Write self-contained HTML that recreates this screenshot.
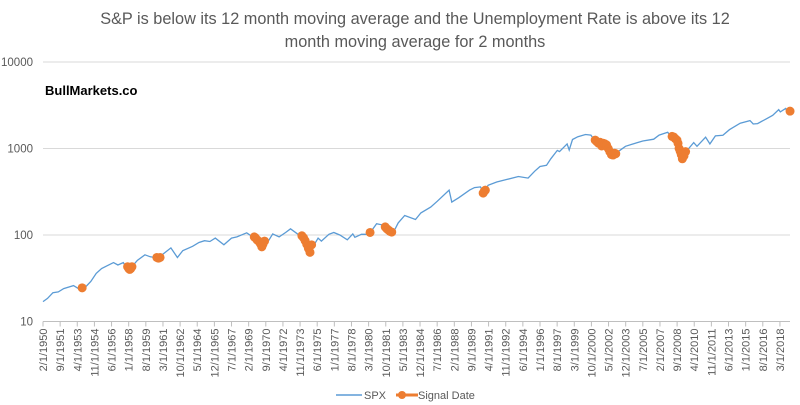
<!DOCTYPE html>
<html><head><meta charset="utf-8"><style>
html,body{margin:0;padding:0;background:#fff;}
svg{display:block;font-family:"Liberation Sans",Calibri,sans-serif;}
</style></head><body>
<svg id="chart" width="800" height="405" viewBox="0 0 800 405">
<text x="415" y="24" text-anchor="middle" font-size="16.3" fill="#595959">S&amp;P is below its 12 month moving average and the Unemployment Rate is above its 12</text>
<text x="415" y="47" text-anchor="middle" font-size="16.3" fill="#595959">month moving average for 2 months</text>
<text x="45" y="95" font-size="13" font-weight="bold" fill="#000">BullMarkets.co</text>
<g id="grid"></g>
<g id="yticks"></g>
<g id="xticks"></g>
<g id="series"></g>
<g>
<line x1="336" y1="395" x2="362" y2="395" stroke="#5b9bd5" stroke-width="1.5"/>
<text x="364" y="399" font-size="11" fill="#595959">SPX</text>
<line x1="396" y1="395" x2="418" y2="395" stroke="#ed7d31" stroke-width="3"/>
<circle cx="402" cy="395" r="4" fill="#ed7d31"/>
<text x="418" y="399" font-size="11" fill="#595959">Signal Date</text>
</g>
</svg>
<script>
const spxDates=[1950.08,1950.5,1951,1951.5,1952,1952.9,1953.6,1954,1954.5,1955,1955.5,1956,1956.6,1957,1957.5,1957.9,1958.3,1958.8,1959.5,1960,1960.8,1961,1961.9,1962.5,1963,1963.9,1964.5,1965,1965.5,1966,1966.8,1967.5,1968,1968.9,1969.5,1970,1970.4,1970.9,1971.3,1971.9,1972.5,1972.95,1973.5,1973.9,1974.4,1974.75,1975.5,1975.8,1976.5,1976.95,1977.5,1978.2,1978.7,1978.9,1979.5,1980.2,1980.9,1981.5,1982.5,1982.9,1983.5,1984.5,1985,1985.9,1986.5,1987.6,1987.85,1988.5,1989.5,1989.95,1990.5,1990.8,1991.2,1992,1993,1994,1994.9,1995.5,1996,1996.6,1997,1997.6,1997.8,1998.5,1998.7,1999,1999.5,2000.2,2000.7,2001.2,2001.7,2001.95,2002.5,2002.75,2003,2003.9,2004.5,2005.5,2006.5,2007,2007.8,2008.2,2008.5,2008.85,2009.15,2009.5,2010.2,2010.5,2011.3,2011.7,2012.2,2012.9,2013.5,2014,2014.5,2015.4,2015.7,2016.1,2016.9,2017.5,2018.05,2018.2,2018.7,2018.95,2019.1];
const spxValues=[17,18.5,21.5,22,24,26,23,25,29,36,41,44,48,45,48,40,43,51,59,56,54,58,71,55,66,74,82,86,84,92,77,92,95,106,94,87,73,85,103,95,107,118,105,96,88,64,92,85,102,107,100,88,103,94,102,102,135,130,110,138,168,151,180,210,245,330,240,270,330,353,360,305,375,410,440,475,455,545,620,640,760,950,920,1130,960,1270,1370,1450,1430,1160,1040,1150,920,815,880,1060,1120,1220,1280,1430,1540,1330,1280,900,735,920,1170,1060,1350,1130,1400,1420,1650,1800,1960,2100,1920,1940,2200,2420,2820,2650,2900,2500,2700];
const signalDates=[1953.7,1957.9,1958.0,1958.1,1958.2,1958.3,1960.6,1960.75,1960.9,1969.6,1969.7,1969.85,1970.0,1970.15,1970.3,1970.4,1970.55,1974.0,1974.15,1974.3,1974.45,1974.6,1974.75,1974.9,1980.3,1981.7,1981.85,1982.0,1982.15,1982.3,1990.75,1990.85,1990.95,2001.1,2001.25,2001.4,2001.55,2001.7,2001.85,2002.0,2002.15,2002.3,2002.45,2002.6,2002.75,2002.9,2003.0,2008.2,2008.35,2008.5,2008.65,2008.75,2008.85,2008.95,2009.05,2009.15,2009.3,2009.45,2019.1];
const signalValues=[24.5,43,41,40,41,43,55,54,55,95,93,88,85,80,73,78,85,98,93,86,78,70,63,77,107,124,118,114,110,108,305,320,330,1250,1200,1150,1180,1070,1150,1130,1100,1000,920,850,840,880,870,1380,1360,1300,1250,1150,1000,930,850,760,820,920,2700];
const yTicks=[10,100,1000,10000];

const NS="http://www.w3.org/2000/svg";
const X0=43,PX_PER_MONTH=0.902,T0=1950.083;
const yTop=62,decade=86.5;
function xs(t){return X0+(t-T0)*12*PX_PER_MONTH;}
function ys(v){return yTop+(4-Math.log10(v))*decade;}
function mk(tag,attrs,parent){const e=document.createElementNS(NS,tag);for(const k in attrs)e.setAttribute(k,attrs[k]);parent.appendChild(e);return e;}

const grid=document.getElementById('grid'),yt=document.getElementById('yticks'),xt=document.getElementById('xticks'),ser=document.getElementById('series');
yTicks.forEach(v=>{
  if(v>10){const l=mk('line',{x1:X0,x2:790,y1:ys(v),y2:ys(v),stroke:'#d9d9d9','stroke-width':1},grid);
  
  }
  const t=mk('text',{x:33,y:ys(v)+4,'text-anchor':'end','font-size':11.5,fill:'#595959'},yt);
  t.textContent=v;
  
  
});
const ax=mk('line',{x1:X0,x2:790,y1:ys(10),y2:ys(10),stroke:'#bfbfbf','stroke-width':1},grid);


for(let m=0;m<=817;m+=19){
  const x=X0+m*PX_PER_MONTH;
  const tk=mk('line',{x1:x,x2:x,y1:ys(10),y2:ys(10)+5,stroke:'#bfbfbf'},grid);
  
  
  const total=1+m, yr=1950+Math.floor(total/12), mo=total%12+1;
  const t=mk('text',{x:0,y:0,'text-anchor':'end','font-size':11,fill:'#595959',transform:`translate(${x+4},${ys(10)+7}) rotate(-90)`},xt);
  t.textContent=mo+'/1/'+yr;
  
  
}
const pts=spxDates.map((d,i)=>xs(d).toFixed(1)+','+ys(spxValues[i]).toFixed(1)).join(' ');
const pl=mk('polyline',{points:pts,fill:'none',stroke:'#5b9bd5','stroke-width':1.3},ser);


signalDates.forEach((d,i)=>{
  const c=mk('circle',{cx:xs(d),cy:ys(signalValues[i]),r:4.5,fill:'#ed7d31'},ser);
  
  
});
</script>
</body></html>
